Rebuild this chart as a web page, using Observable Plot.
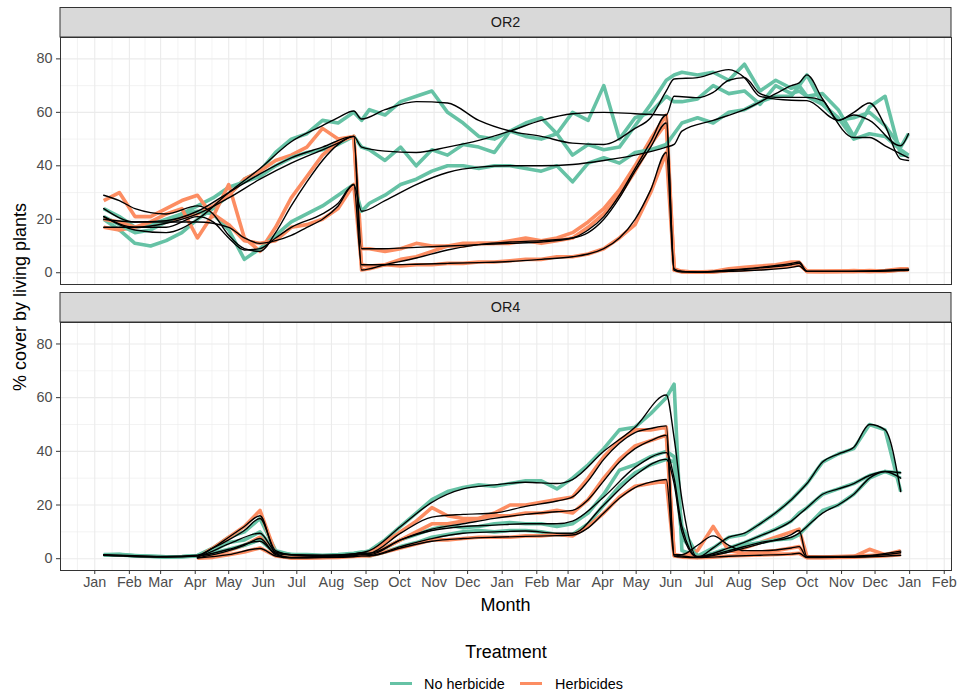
<!DOCTYPE html>
<html><head><meta charset="utf-8">
<script src="https://cdn.jsdelivr.net/npm/d3@7"></script>
<script src="https://cdn.jsdelivr.net/npm/@observablehq/plot@0.6"></script>
<style>
body{margin:0;background:#fff;font-family:"Liberation Sans",Arial,Helvetica,sans-serif;}
#fig{position:relative;width:961px;height:693px;overflow:hidden;background:#fff;}
.abs{position:absolute;white-space:nowrap;}
</style></head><body><div id="fig"></div>
<script>
const _ = null;
// sampling dates of the cover readings
const sampleDates = [
"2017-01-09","2017-01-23","2017-02-06","2017-02-20","2017-03-06","2017-03-20","2017-04-03","2017-04-17","2017-05-01","2017-05-15","2017-05-29",
"2017-06-12","2017-06-26","2017-07-10","2017-07-24","2017-08-07","2017-08-21","2017-08-28",
"2017-09-04","2017-09-18","2017-10-02","2017-10-16","2017-10-30","2017-11-13","2017-11-27","2017-12-11","2017-12-25",
"2018-01-08","2018-01-22","2018-02-05","2018-02-19","2018-03-05","2018-03-19","2018-04-02","2018-04-16","2018-04-30","2018-05-14","2018-05-28",
"2018-06-04","2018-06-11","2018-06-25","2018-07-09","2018-07-23","2018-08-06","2018-08-20","2018-09-03","2018-09-17","2018-09-24","2018-10-01",
"2018-10-15","2018-10-29","2018-11-12","2018-11-26","2018-12-10","2018-12-24","2018-12-31"];

const sites = ["OR2", "OR4"];
const treatments = ["No herbicide", "Herbicides"];
const treatmentColors = ["#66C2A5", "#FC8D62"];
const monthTicks = ["2017-01-01","2017-02-01","2017-03-01","2017-04-01","2017-05-01","2017-06-01","2017-07-01","2017-08-01","2017-09-01","2017-10-01","2017-11-01","2017-12-01",
"2018-01-01","2018-02-01","2018-03-01","2018-04-01","2018-05-01","2018-06-01","2018-07-01","2018-08-01","2018-09-01","2018-10-01","2018-11-01","2018-12-01","2019-01-01","2019-02-01"];
const yTicks = [0, 20, 40, 60, 80];
const yMinor = [10, 30, 50, 70];

// ---- OR2 raw cover (%) ----
const or2NoHerb1 = [20,16,11,10,12,15,20,24,29,35,38, 45,50,52,57,56,60,57, 61,59,64,66,68,60,56,51,50,
  53,51,50,52,44,48,46,47,55,63,72, 74,75,74,75,72,78,68,72,69,70,66, 67,61,51,62,66,44,44];
const or2NoHerb2 = [24,21,17,18,20,22,25,28,32,34,36, 40,43,45,46,48,51,47, 46,42,47,40,46,44,48,47,45,
  53,56,58,52,60,57,70,50,58,60,66, 64,64,65,70,67,68,63,70,67,68,66, 63,57,58,60,55,47,52];
const or2NoHerb3 = [21,18,15,16,19,22,23,22,16,5,9, 14,19,22,25,29,33,23, 26,29,33,35,38,40,40,39,40,
  40,39,38,40,34,41,43,41,45,46,48, 52,56,58,56,60,61,64,66,66,70,74, 63,58,50,52,51,46,44];
const or2Herb1 = [17,16,17,18,19,21,22,25,29,35,38, 42,44,47,54,50,51,9, 9,8,9,11,10,10,11,11,11,
  12,13,12,13,15,19,24,31,40,50,59, 1,0.3,0.3,0.5,1.5,2,2.5,3,4,4,0.5, 0.5,0.5,0.8,0.5,0.8,1.5,1.5];
const or2Herb2 = [27,30,21,21,24,27,29,21,33,13,8, 17,28,36,44,49,51,1, 1.5,3,5,6,8,10,10,11,11,
  11,12,11,12,13,17,22,29,38,48,56, 1.5,0.5,0.2,0.3,1,1.5,2,2.5,3.5,3.5,0.5, 0.5,0.6,0.5,0.8,0.6,1,1.2];
const or2Herb3 = [20,19,17,19,22,24,13,22,18,12,11, 12,17,18,20,24,33,3, 2.5,3,2.5,3,3,3.5,3.5,4,4,
  4.5,5,5,6,6,7,9,13,18,30,45, 1,0.5,0.2,0.3,0.8,1,1.5,2,2.5,3,0.5, 0.4,0.5,0.5,0.6,0.5,1,1];

// ---- OR4 raw cover (%) ----
const or4NoHerb1 = [1.5,1.6,1.2,0.9,0.7,0.8,1.2,4,8,10,15, 3,1.5,1.2,1,1.2,1.8,2.2, 3,7,12,17,22,25,26.5,27.5,27,
  28,29,29,26,30,35,41,48,49,54,60, 65,3,1,4,8,9,13,17,22,25,28, 36,39,41,50,48,25,_];
const or4NoHerb2 = [1.4,1.5,1.1,0.9,0.7,0.7,1.1,3,6,7,10, 2.5,1.5,1.5,1.3,1.5,2,2.5, 1.5,4,7,9,11,12.5,11.5,12,13,
  13.5,13,13,12,13,17,24,33,35,38,40, 38,12,1,2,4,6,8.5,11,14,17,19, 24,26,28,31,32.5,32,_];
const or4NoHerb3 = [1.3,1.4,1.0,0.8,0.6,0.7,1.0,2,3.5,5,7, 2,1.5,1.2,1,1.2,1.8,2, 1,2.5,4.5,6,8,9,10,10.5,10,
  10.5,10.5,10,9,9,13,20,27,32,35,37, 36,8,0.5,1.5,3,5,6,7,7.5,9,12, 18,20,24,30,32.5,30,_];
const or4Herb1 = [_,_,_,_,_,_,0.5,4,8,12,18, 2,0.5,0.5,0.8,1,1.5,2, 2,6,10,14,19,16,15,15,17,
  20,20,21,22,23,30,38,44,48,48,49, 1.5,1,0.5,1.5,3,4,6,8,10,11,0.8, 0.6,0.8,1,1.2,1.5,3,_];
const or4Herb2 = [_,_,_,_,_,_,0.3,1.5,3,5,8, 1.5,0.3,0.3,0.5,0.8,1.2,1.5, 1.5,4,7,10,13,13,14,15,16,
  16,17,17,18,17,22,30,37,42,44,46, 1.5,1,3,12,3,2,2.5,3,4,4.5,0.5, 0.5,0.6,0.8,3.5,1.5,2.5,_];
const or4Herb3 = [_,_,_,_,_,_,0.2,0.5,1.5,2.5,4, 1,0.3,0.3,0.4,0.5,0.8,1, 1,2.5,4,5.5,7,7,7.5,8,8,
  8,8.5,8.5,9,8.5,12,17,23,27,28,29, 1,0.6,0.4,0.6,1,1.2,1.4,1.6,1.8,2,0.4, 0.4,0.5,0.6,0.8,1,1.5,_];

// ---- fitted curves: [sample index, cover] ----
const or2NoHerb1Fit = [[0,21],[2,16],[4,15],[6,20],[8,30],[10,39],[12,49],[14,55],[15,58],[16,60.5],[17,57.5],[19,61],[21,64],[23,63.5],[25,57],[27,53],[29,51],[31,48.5],[33,48],[35,54],[36,58],[37,68],[38,72.5],[40,73],[42,76],[43,73],[44,66],[46,64.5],[48,64.4],[50,57],[51,60],[52,63.5],[53,55],[54,42.5],[55,42]];
const or2NoHerb2Fit = [[0,24],[2,19],[4,19.5],[6,23],[8,30],[10,37],[12,43],[14,47],[16,51],[17,47],[19,45.5],[21,45],[23,47],[25,49.5],[27,53],[29,57],[31,59.5],[33,60],[35,59.5],[37,59],[38,66],[40,65.5],[41,67.5],[42,72],[43,73],[44,67],[45,65.6],[48,65.6],[49,64.4],[50,57],[51,59],[52,57],[54,47.5],[55,52]];
const or2NoHerb3Fit = [[0,21],[2,17],[4,17],[6,21],[7,19],[8,13],[9,8.5],[10,9],[11,13],[12,17],[14,22],[15,26],[16,33],[17,23],[19,27],[21,33],[23,37.5],[25,39.5],[27,40],[29,40],[31,40.5],[33,42],[35,44],[37,47],[38,48],[39,53],[41,57],[43,61],[45,67],[46,70],[47,71],[48,74],[49,65],[51,50.6],[52,50.6],[53,47.5],[55,43]];
const or2Herb1Fit = [[0,17],[2,17],[4,18.5],[6,22],[8,28],[10,35],[12,41],[14,46],[15,48.5],[16,51],[17,9],[19,9],[21,9.5],[23,10],[25,10.5],[27,11],[29,11.5],[31,13],[32,16],[33,21],[34,29],[35,39],[36,49],[37,59],[38,1],[39,0.3],[40,0.3],[42,1],[44,2],[46,3.5],[47,4],[48,0.5],[50,0.5],[52,0.7],[54,1.2],[55,1.3]];
const or2Herb2Fit = [[0,29],[1,27],[2,24],[4,22],[6,25],[7,22],[8,14],[9,9],[10,8],[11,15],[12,25],[13,34],[14,42],[15,48],[16,51],[17,1],[19,3],[21,5.5],[23,8.5],[25,10.5],[27,11.5],[29,12],[31,13],[32,15],[33,20],[34,28],[35,38],[36,47],[37,56],[38,1.5],[39,0.5],[40,0.2],[42,0.8],[44,1.8],[46,3],[47,3.5],[48,0.5],[50,0.5],[52,0.6],[54,1],[55,1.1]];
const or2Herb3Fit = [[0,20],[2,19],[4,19],[6,19],[8,17],[9,13],[10,11],[11,12],[12,14],[13,17],[14,20],[15,25],[16,33],[17,3],[19,3],[21,3.2],[23,3.5],[25,3.8],[27,4.2],[29,5],[31,6],[32,7],[33,9],[34,13],[35,20],[36,31],[37,45],[38,1],[39,0.5],[40,0.2],[42,0.5],[44,1],[46,2],[47,2.5],[48,0.5],[50,0.5],[52,0.5],[54,0.8],[55,0.9]];
const or4NoHerb1Fit = [[0,1.5],[2,1.1],[4,0.8],[6,1.3],[7,4],[8,7],[9,10.5],[10,15],[11,3],[12,1.5],[14,1.2],[16,1.8],[17,2.2],[18,3],[20,12],[22,21],[24,26],[26,27.5],[28,28.5],[30,28],[31,29.5],[33,40],[35,49],[37,61],[38,45],[39,22],[40,0.5],[41,4],[42,8],[43,9.5],[44,13],[46,22],[48,28],[49,36],[50,39],[51,41.5],[52,50],[53,48],[54,25]];
const or4NoHerb2Fit = [[0,1.4],[4,0.7],[6,1.1],[8,5.5],[10,9.5],[11,2.5],[12,1.5],[14,1.3],[16,1.8],[17,2.2],[18,2],[20,7],[22,10.5],[24,12],[26,12.5],[28,13],[30,13],[31,14],[33,23],[35,34],[37,39.5],[38,30],[39,12],[40,0.8],[42,4],[44,8.5],[46,14],[48,19],[49,24],[50,26],[51,28],[52,31],[53,32.5],[54,32]];
const or4NoHerb3Fit = [[0,1.3],[4,0.6],[6,1],[8,3.5],[10,6.5],[11,2],[12,1.4],[14,1.1],[16,1.7],[17,2],[18,1.2],[20,4.5],[22,7.5],[24,9.5],[26,10],[28,10.3],[30,9.5],[31,9.5],[33,20],[35,31],[37,37],[38,28],[39,10],[40,0.5],[42,3],[44,6],[46,8],[47,9.5],[48,12],[49,17],[50,20],[51,24],[52,30],[53,32.5],[54,30]];
const or4Herb1Fit = [[6,0.5],[7,4],[8,8],[9,12],[10,16],[11,2],[12,0.5],[14,0.8],[16,1.4],[17,1.8],[18,2],[20,9.5],[22,15.5],[24,16.5],[26,17],[28,19.5],[30,21.5],[31,23],[32,29],[33,37],[34,43],[35,47],[36,48.5],[37,49.5],[38,1.5],[39,1],[40,0.5],[42,2.5],[44,5.5],[46,9],[47,10.5],[48,0.8],[50,0.8],[52,1.2],[54,2.8]];
const or4Herb2Fit = [[6,0.3],[8,3],[9,5],[10,7.5],[11,1.5],[12,0.3],[14,0.5],[16,1.1],[17,1.5],[18,1.5],[20,7],[22,11],[24,13],[26,15],[28,16.5],[30,17.5],[31,18],[32,22],[33,29],[34,36],[35,41],[36,44],[37,46],[38,1.5],[39,1.5],[40,5],[41,8.5],[42,5],[43,3],[44,3],[46,4],[47,4.5],[48,0.5],[50,0.6],[52,1],[54,2.2]];
const or4Herb3Fit = [[6,0.2],[8,1.5],[10,3.8],[11,1],[12,0.3],[14,0.4],[16,0.7],[17,1],[18,1],[20,4],[22,6.5],[24,7.5],[26,8],[28,8.3],[30,8.6],[31,8.8],[32,11.5],[33,17],[34,22.5],[35,26.5],[36,28.5],[37,29.5],[38,1],[39,0.6],[40,0.4],[42,0.9],[44,1.3],[46,1.7],[47,2],[48,0.4],[50,0.5],[52,0.7],[54,1.3]];

const seriesList = [
  {site:"OR2", treatment:"No herbicide", plot:1, raw:or2NoHerb1, fit:or2NoHerb1Fit},
  {site:"OR2", treatment:"Herbicides",   plot:1, raw:or2Herb1,   fit:or2Herb1Fit},
  {site:"OR2", treatment:"No herbicide", plot:2, raw:or2NoHerb2, fit:or2NoHerb2Fit},
  {site:"OR2", treatment:"Herbicides",   plot:2, raw:or2Herb2,   fit:or2Herb2Fit},
  {site:"OR2", treatment:"No herbicide", plot:3, raw:or2NoHerb3, fit:or2NoHerb3Fit},
  {site:"OR2", treatment:"Herbicides",   plot:3, raw:or2Herb3,   fit:or2Herb3Fit},
  {site:"OR4", treatment:"No herbicide", plot:1, raw:or4NoHerb1, fit:or4NoHerb1Fit},
  {site:"OR4", treatment:"Herbicides",   plot:1, raw:or4Herb1,   fit:or4Herb1Fit},
  {site:"OR4", treatment:"No herbicide", plot:2, raw:or4NoHerb2, fit:or4NoHerb2Fit},
  {site:"OR4", treatment:"Herbicides",   plot:2, raw:or4Herb2,   fit:or4Herb2Fit},
  {site:"OR4", treatment:"No herbicide", plot:3, raw:or4NoHerb3, fit:or4NoHerb3Fit},
  {site:"OR4", treatment:"Herbicides",   plot:3, raw:or4Herb3,   fit:or4Herb3Fit}
];

for (const s of seriesList) if (s.raw.length !== sampleDates.length) throw new Error("length mismatch " + s.site + s.treatment + s.plot + " " + s.raw.length);

const dates = sampleDates.map(d => new Date(d + "T00:00:00Z"));
const rawRows = [], fitRows = [];
for (const s of seriesList) {
  const id = s.site + "|" + s.treatment + "|" + s.plot;
  s.raw.forEach((v, i) => { if (v !== null) rawRows.push({site:s.site, treatment:s.treatment, id, date:dates[i], cover:v}); });
  s.fit.forEach(([i, v]) => fitRows.push({site:s.site, treatment:s.treatment, id, date:dates[i], cover:v}));
}

const DAY = 864e5, T0 = Date.UTC(2017, 0, 1);
const xDomain = [new Date(T0 - 30.7 * DAY), new Date(T0 + 767.5 * DAY)];
const yDomain = [-4.4, 88];
const monthDates = monthTicks.map(d => new Date(d + "T00:00:00Z"));
const allMonths = [new Date("2016-12-01T00:00:00Z"), ...monthDates, new Date("2019-03-01T00:00:00Z")];
const xMinor = allMonths.slice(1).map((d, i) => new Date((+d + +allMonths[i]) / 2))
  .filter(d => d >= xDomain[0] && d <= xDomain[1]);

const FONT = "'Liberation Sans', Arial, Helvetica, sans-serif";

function panel(site, o) {
  const marks = [
    Plot.ruleY(yMinor, {stroke:"#ebebeb", strokeWidth:0.6}),
    Plot.ruleX(xMinor, {stroke:"#ebebeb", strokeWidth:0.6}),
    Plot.ruleY(yTicks, {stroke:"#ebebeb", strokeWidth:1.1}),
    Plot.ruleX(monthDates, {stroke:"#ebebeb", strokeWidth:1.1}),
    Plot.line(rawRows.filter(d => d.site === site), {x:"date", y:"cover", z:"id", stroke:"treatment", strokeWidth:3.6, strokeLinejoin:"round", strokeLinecap:"butt"}),
    Plot.line(fitRows.filter(d => d.site === site), {x:"date", y:"cover", z:"id", stroke:"black", strokeWidth:1.4, curve:"monotone-x"}),
    Plot.frame({stroke:"#333333", strokeWidth:1}),
    Plot.axisY(yTicks, {tickSize:4, tickPadding:4, label:null, stroke:"#333333", fill:"#4d4d4d"})
  ];
  if (o.xAxis) marks.push(Plot.axisX(monthDates, {tickFormat:d3.utcFormat("%b"), tickSize:4, tickPadding:2, label:null, stroke:"#333333", fill:"#4d4d4d"}));
  const svg = Plot.plot({
    width:961, height:o.height, marginTop:o.marginTop, marginBottom:o.marginBottom, marginLeft:60, marginRight:10,
    style:{fontFamily:FONT, fontSize:"14.4px", color:"#4d4d4d", background:"transparent", overflow:"visible"},
    x:{type:"utc", domain:xDomain, axis:null},
    y:{domain:yDomain, axis:null},
    color:{domain:treatments, range:treatmentColors},
    marks
  });
  // facet strip
  const g = d3.select(svg);
  const top = o.marginTop - 29.5;
  g.append("rect").attr("x", 60).attr("y", top).attr("width", 891).attr("height", 29.5)
    .attr("fill", "#d9d9d9").attr("stroke", "#333333").attr("stroke-width", 1);
  g.append("text").attr("x", 505.5).attr("y", top + 14.75).attr("text-anchor", "middle")
    .attr("dominant-baseline", "central").attr("fill", "#1a1a1a").attr("font-size", "14.4px")
    .attr("font-family", FONT).text(site);
  svg.style.position = "absolute";
  svg.style.left = "0px";
  svg.style.top = o.top + "px";
  return svg;
}

const fig = document.getElementById("fig");
fig.appendChild(panel("OR2", {top:0, height:285, marginTop:37, marginBottom:1, xAxis:false}));
fig.appendChild(panel("OR4", {top:284, height:336, marginTop:38, marginBottom:50, xAxis:true}));

function addText(txt, left, top, size, extra) {
  const d = document.createElement("div");
  d.className = "abs";
  d.textContent = txt;
  d.style.left = left + "px";
  d.style.top = top + "px";
  d.style.fontSize = size + "px";
  d.style.fontFamily = FONT;
  d.style.color = "#000";
  d.style.lineHeight = "1";
  Object.assign(d.style, extra || {});
  fig.appendChild(d);
  return d;
}
addText("Month", 505.5, 605, 18, {transform:"translate(-50%,-50%)"});
addText("% cover by living plants", 20, 297, 18, {transform:"translate(-50%,-50%) rotate(-90deg)"});
addText("Treatment", 506, 652, 18, {transform:"translate(-50%,-50%)"});
// legend keys
const legendItems = [{label:treatments[0], color:treatmentColors[0], keyX:390, textX:424},
                     {label:treatments[1], color:treatmentColors[1], keyX:520, textX:555}];
for (const it of legendItems) {
  const k = document.createElement("div");
  k.className = "abs";
  Object.assign(k.style, {left:it.keyX + "px", top:"682px", width:"22px", height:"3.4px", background:it.color});
  fig.appendChild(k);
  addText(it.label, it.textX, 684, 14.4, {transform:"translateY(-50%)"});
}
</script>
</body></html>
